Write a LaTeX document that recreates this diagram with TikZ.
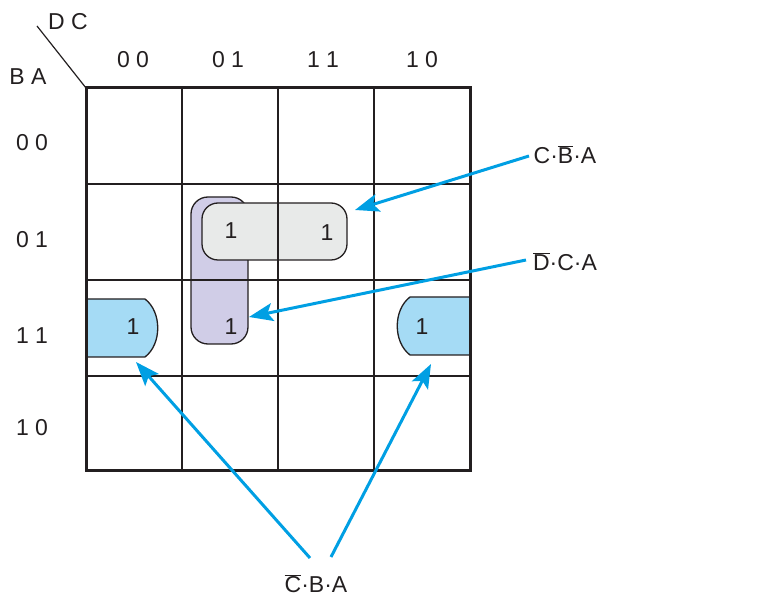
\documentclass[tikz,border=0pt]{standalone}
\usepackage{fontspec}
\setmainfont{Liberation Sans}
\usetikzlibrary{arrows.meta}
\definecolor{ink}{HTML}{231F20}
\definecolor{grayfill}{HTML}{E8EAE9}
\definecolor{purplefill}{HTML}{D0CDE7}
\definecolor{bluefill}{HTML}{A5DBF5}
\definecolor{arrowblue}{HTML}{009FE3}
\newcommand{\ob}[1]{$\overline{\mbox{#1}}$}
\tikzset{
  lbl/.style={text=ink, font=\fontsize{23}{27}\selectfont, inner sep=0pt, anchor=center},
  one/.style={text=ink, font=\fontsize{23}{27}\selectfont, inner sep=0pt},
  thinline/.style={draw=ink, line width=1.3pt},
  thickline/.style={draw=ink, line width=3pt},
  region/.style={draw=ink, line width=1.3pt},
  pointer/.style={draw=arrowblue, line width=3pt, -{Stealth[length=24pt,width=18pt,inset=5pt]}}
}
\begin{document}
\begin{tikzpicture}[x=1pt,y=-1pt]
\useasboundingbox (0,0) rectangle (777,601);
% regions
\draw[region, fill=purplefill, rounded corners=17pt] (191,197) rectangle (248,344);
\draw[region, fill=grayfill, rounded corners=16pt] (202,203) rectangle (347,260);
\draw[region, fill=bluefill] (86,299) -- (145,299) .. controls (162,312) and (162,344) .. (145,357) -- (86,357);
\draw[region, fill=bluefill] (470,297) -- (410,297) .. controls (393,310) and (393,342) .. (410,355) -- (470,355);
% grid
\foreach \v in {182,278,374} {
  \draw[thinline] (\v,88) -- (\v,471);
}
\foreach \h in {184,280,376} {
  \draw[thinline] (86,\h) -- (470,\h);
}
\draw[thickline] (86,88) rectangle (470,471);
\draw[line width=1.2pt, draw=ink] (37,26) -- (86,88);
% headers
\node[lbl] (dc) at (68,22) {D C};
\node[lbl] (ba) at (28,77) {B A};
\node[lbl] (c00) at (133,60) {0 0};
\node[lbl] (c01) at (228,60) {0 1};
\node[lbl] (c11) at (323,60) {1 1};
\node[lbl] (c10) at (422,60) {1 0};
\node[lbl] (r00) at (32,143) {0 0};
\node[lbl] (r01) at (32,240) {0 1};
\node[lbl] (r11) at (32,336) {1 1};
\node[lbl] (r10) at (32,428) {1 0};
% ones
\node[one] (o1) at (231,231) {1};
\node[one] (o2) at (327,233) {1};
\node[one] (o3) at (231,327) {1};
\node[one] (o4) at (133,327) {1};
\node[one] (o5) at (422,327) {1};
% labels
\node[lbl] (l1) at (565,155) {C·\ob{B}·A};
\node[lbl] (l2) at (565,262) {\ob{D}·C·A};
\node[lbl] (l3) at (316,584) {\ob{C}·B·A};
% arrow coordinates
\coordinate (t1) at (529,156);
\coordinate (h1) at (355,210);
\coordinate (t2) at (526,260);
\coordinate (h2) at (249,317);
\coordinate (t3a) at (310,558);
\coordinate (h3a) at (136,362);
\coordinate (t3b) at (331,557);
\coordinate (h3b) at (431,364);
\draw[pointer] (t1) -- (h1);
\draw[pointer] (t2) -- (h2);
\draw[pointer] (t3a) -- (h3a);
\draw[pointer] (t3b) -- (h3b);
\end{tikzpicture}
\end{document}
